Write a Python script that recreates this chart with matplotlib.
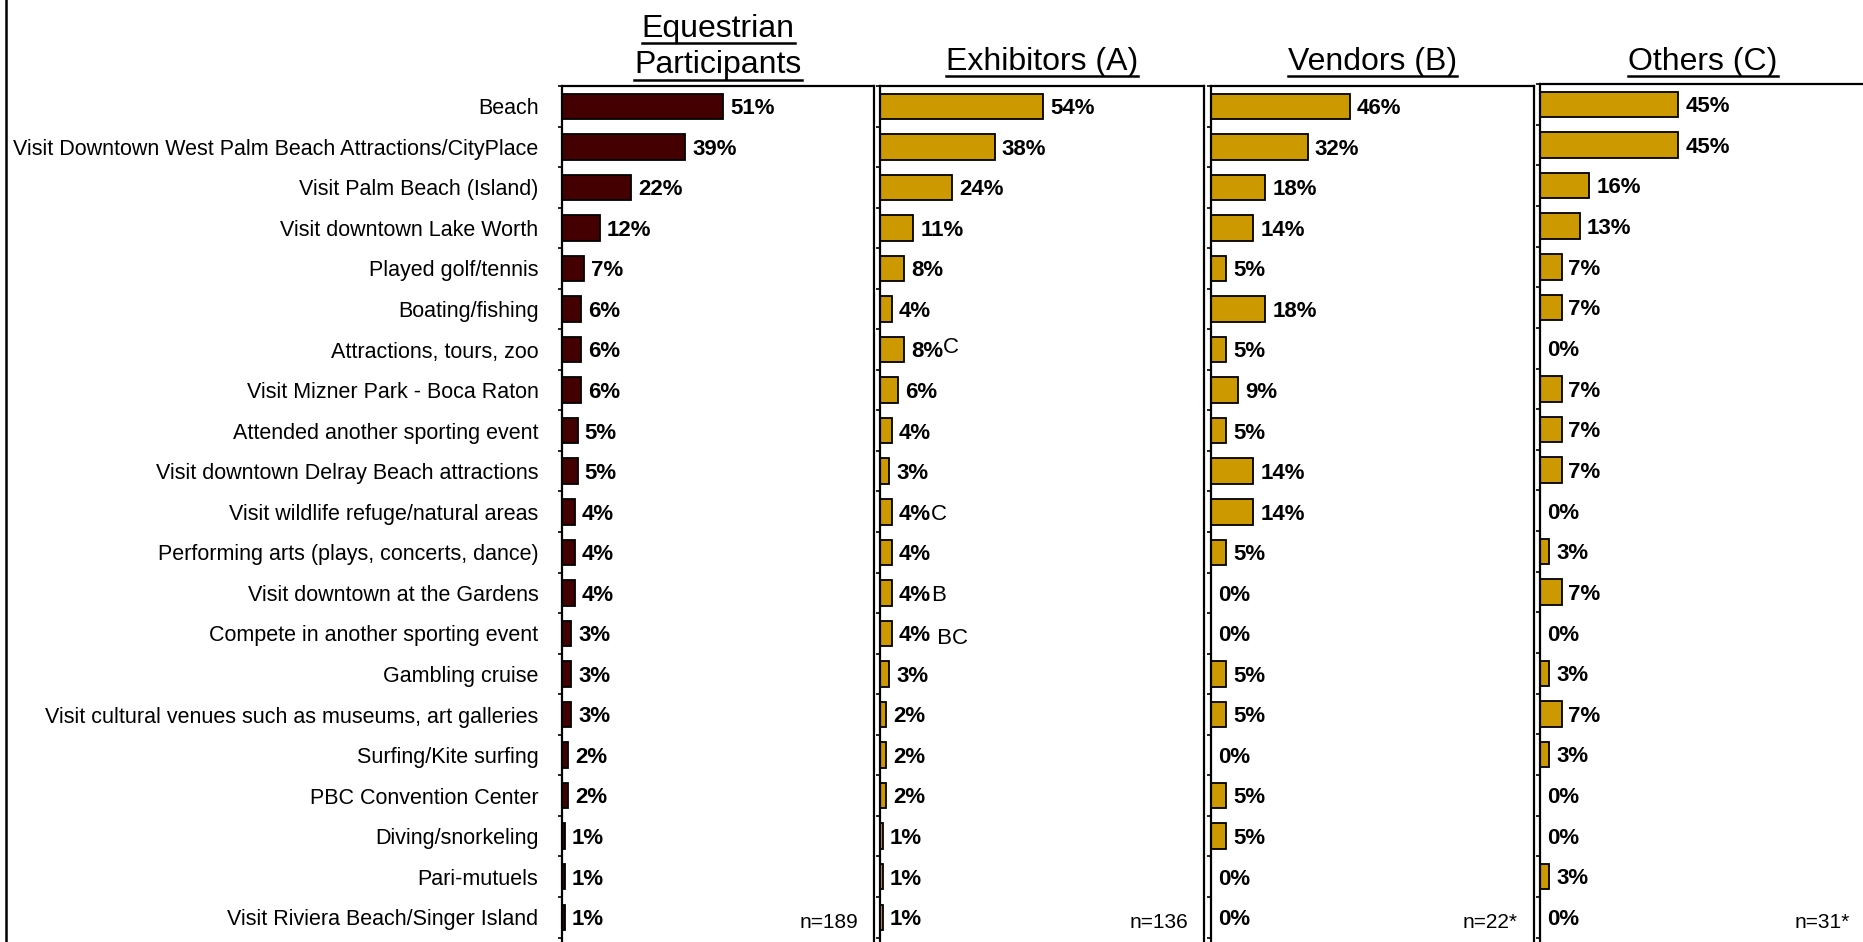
import matplotlib
matplotlib.use("Agg")
import matplotlib.pyplot as plt
from matplotlib.lines import Line2D

plt.rcParams['font.family'] = ['Liberation Sans', 'DejaVu Sans']

categories = [
    "Beach",
    "Visit Downtown West Palm Beach Attractions/CityPlace",
    "Visit Palm Beach (Island)",
    "Visit downtown Lake Worth",
    "Played golf/tennis",
    "Boating/fishing",
    "Attractions, tours, zoo",
    "Visit Mizner Park - Boca Raton",
    "Attended another sporting event",
    "Visit downtown Delray Beach attractions",
    "Visit wildlife refuge/natural areas",
    "Performing arts (plays, concerts, dance)",
    "Visit downtown at the Gardens",
    "Compete in another sporting event",
    "Gambling cruise",
    "Visit cultural venues such as museums, art galleries",
    "Surfing/Kite surfing",
    "PBC Convention Center",
    "Diving/snorkeling",
    "Pari-mutuels",
    "Visit Riviera Beach/Singer Island",
]

equestrian = [51, 39, 22, 12, 7, 6, 6, 6, 5, 5, 4, 4, 4, 3, 3, 3, 2, 2, 1, 1, 1]
exhibitors = [54, 38, 24, 11, 8, 4, 8, 6, 4, 3, 4, 4, 4, 4, 3, 2, 2, 2, 1, 1, 1]
vendors = [46, 32, 18, 14, 5, 18, 5, 9, 5, 14, 14, 5, 0, 0, 5, 5, 0, 5, 5, 0, 0]
others = [45, 45, 16, 13, 7, 7, 0, 7, 7, 7, 0, 3, 7, 0, 3, 7, 3, 0, 0, 3, 0]

# significance letters for Exhibitors (A): row index -> letters
exhibitor_sig = {6: "C", 10: "C", 12: "B", 13: " BC"}

titles = ["Equestrian\nParticipants", "Exhibitors (A)", "Vendors (B)", "Others (C)"]
sample_sizes = ["n=189", "n=136", "n=22*", "n=31*"]
series = [equestrian, exhibitors, vendors, others]

W, H = 1863, 942
fig = plt.figure(figsize=(W / 100, H / 100), dpi=100)

def fx(px):
    return px / W

def fy(py):
    return 1 - py / H

MAROON = "#440000"
GOLD = "#CC9900"

# panel layout (pixel left, right) and x-limits
panels_px = [(562, 874), (880, 1204), (1211, 1534), (1540, 1866)]
xmax = [98.8, 107.3, 107.0, 106.0]
colors = [MAROON, GOLD, GOLD, GOLD]
top_px = [86, 86, 86, 84]
bottom_px = 946
n = len(categories)
ybottom = n - 0.5 + (bottom_px - 86 - n * 40.55) / 40.55

axes = []
for i, ((l, r), vals) in enumerate(zip(panels_px, series)):
    t = top_px[i]
    ax = fig.add_axes([fx(l), fy(bottom_px), fx(r - l), (bottom_px - t) / H])
    ypos = list(range(n))
    ax.barh(ypos, vals, height=0.63, color=colors[i], edgecolor="black", linewidth=1.3)
    ax.set_xlim(0, xmax[i])
    ax.set_ylim(ybottom, -0.5)
    ax.set_xticks([])
    ax.set_yticks(ypos)
    if i == 0:
        ax.set_yticklabels(categories, fontsize=15.5)
        ax.tick_params(axis="y", which="major", length=0, pad=17)
    else:
        ax.set_yticklabels([])
        ax.tick_params(axis="y", which="major", length=0)
    ax.set_yticks([k - 0.5 for k in range(n + 1)], minor=True)
    ax.tick_params(axis="y", which="minor", length=3, width=1.2, direction="out")
    for s in ax.spines.values():
        s.set_linewidth(1.6)
        s.set_color("black")
    labels = []
    for k, v in enumerate(vals):
        a = ax.annotate(f"{v}%", xy=(v, k), xytext=(5, -1.7), textcoords="offset points",
                        ha="left", va="center", fontsize=16, fontweight="bold")
        labels.append(a)
    fig.text(fx(r - 16), fy(923), sample_sizes[i], ha="right", va="center", fontsize=15)
    axes.append((ax, labels))

fig.canvas.draw()
renderer = fig.canvas.get_renderer()

# significance letters placed right after value labels
ex_ax, ex_labels = axes[1]
for k, letters in exhibitor_sig.items():
    bb = ex_labels[k].get_window_extent(renderer)
    yc = (bb.y0 + bb.y1) / 2
    dy = 0
    if k == 6:
        dy = 4
    elif k == 13:
        dy = -3
    fig.text(bb.x1 / W, (yc + dy) / H, letters, ha="left", va="center", fontsize=16)

# titles with underlines
def underlined(text, xc, base_y, under_y):
    t = fig.text(fx(xc), fy(base_y), text, ha="center", va="baseline", fontsize=23)
    fig.canvas.draw()
    bb = t.get_window_extent(renderer)
    fig.add_artist(Line2D([bb.x0 / W, bb.x1 / W], [fy(under_y), fy(under_y)],
                          color="black", linewidth=1.8))

c1 = (panels_px[0][0] + panels_px[0][1]) / 2
underlined("Equestrian", c1, 37, 43)
underlined("Participants", c1, 73, 80)
for (l, r), ttl in zip(panels_px[1:], titles[1:]):
    underlined(ttl, (l + r) / 2, 70, 76)

# left frame line
fig.add_artist(Line2D([fx(6), fx(6)], [0, 1], color="black", linewidth=1.8))

fig.savefig("out.png", dpi=100)
